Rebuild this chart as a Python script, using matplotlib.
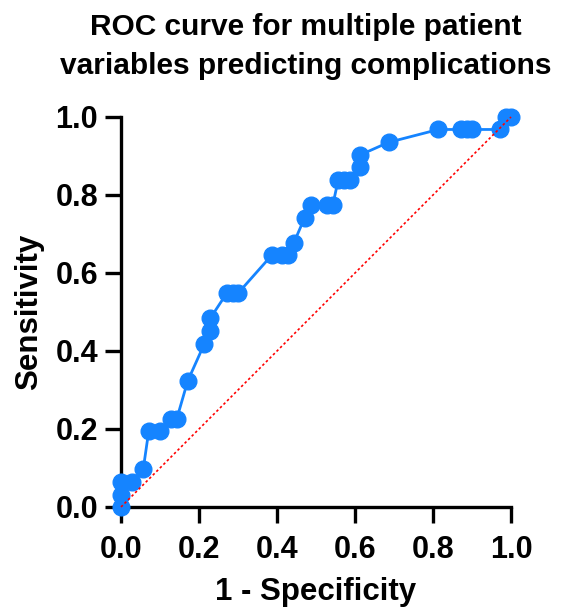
import matplotlib.pyplot as plt

plt.rcParams['font.family'] = ['Liberation Sans', 'DejaVu Sans']

# 1 - specificity and sensitivity
fpr = [0.0, 0.0, 0.0, 0.029, 0.057, 0.071, 0.100, 0.129, 0.143, 0.171,
       0.214, 0.229, 0.229, 0.271, 0.286, 0.300, 0.386, 0.414, 0.429, 0.443,
       0.471, 0.486, 0.529, 0.543, 0.557, 0.571, 0.586, 0.614, 0.614, 0.686,
       0.814, 0.871, 0.886, 0.900, 0.971, 0.986, 1.0]
tpr = [0.0, 0.032, 0.065, 0.065, 0.097, 0.194, 0.194, 0.226, 0.226, 0.323,
       0.419, 0.452, 0.484, 0.548, 0.548, 0.548, 0.645, 0.645, 0.645, 0.677,
       0.742, 0.774, 0.774, 0.774, 0.839, 0.839, 0.839, 0.871, 0.903, 0.935,
       0.968, 0.968, 0.968, 0.968, 0.968, 1.0, 1.0]
ref_line = [0.0, 1.0]
ticks = [0.0, 0.2, 0.4, 0.6, 0.8, 1.0]

fig = plt.figure(figsize=(5.69, 6.10), dpi=100)
ax = fig.add_axes([121 / 569, 103 / 610, 390 / 569, 390 / 610])

ax.plot(fpr, tpr, color='#1584ff', lw=2.0, marker='o', markersize=12,
        clip_on=False, zorder=3)
ax.plot(ref_line, ref_line, color='red', lw=1.2, ls=(0, (1.5, 1.5)),
        clip_on=False, zorder=4)

ax.set_xlim(0, 1)
ax.set_ylim(0, 1)
ax.set_xticks(ticks)
ax.set_yticks(ticks)
ax.set_xticklabels([f'{t:.1f}' for t in ticks])
ax.set_yticklabels([f'{t:.1f}' for t in ticks])
ax.spines['top'].set_visible(False)
ax.spines['right'].set_visible(False)
for s in ('left', 'bottom'):
    ax.spines[s].set_linewidth(2.4)
ax.tick_params(width=2.4, length=11.5, labelsize=22)
ax.tick_params(axis='x', pad=9)
ax.tick_params(axis='y', pad=5)
for lab in ax.get_xticklabels() + ax.get_yticklabels():
    lab.set_fontweight('bold')

ax.set_xlabel('1 - Specificity', fontsize=22.5, fontweight='bold', labelpad=8)
ax.set_ylabel('Sensitivity', fontsize=22.5, fontweight='bold', labelpad=8)
fig.text(0.537, 0.978, 'ROC curve for multiple patient\nvariables predicting complications',
         ha='center', va='top', fontsize=21.5, fontweight='bold', linespacing=1.5)

fig.savefig('out.png', dpi=100)
